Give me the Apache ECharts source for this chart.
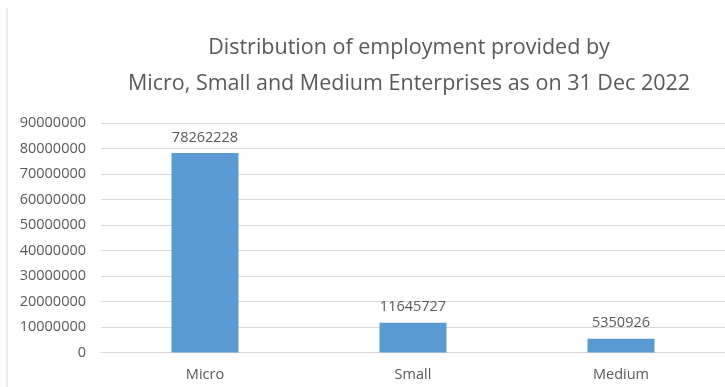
<!DOCTYPE html>
<html><head><meta charset="utf-8">
<script src="https://cdn.jsdelivr.net/npm/echarts@6/dist/echarts.min.js"></script>
<style>html,body{margin:0;padding:0;background:#fff}#c{width:725px;height:387px}</style>
</head><body><div id="c"></div>
<script>
const categories = ['Micro', 'Small', 'Medium'];
const employment = [78262228, 11645727, 5350926];
const titleLines = ['Distribution of employment provided by', 'Micro, Small and Medium Enterprises as on 31 Dec 2022'];

const chart = echarts.init(document.getElementById('c'));
const font = 'Open Sans';
chart.setOption({
  animation: false,
  textStyle: { fontFamily: font },
  title: {
    text: titleLines.join('\n'),
    left: 404, top: 25, textAlign: 'center',
    textStyle: { fontSize: 21.5, fontWeight: 'normal', color: '#595959', lineHeight: 36, fontFamily: font }
  },
  graphic: [{ type: 'line', shape: { x1: 7, y1: 8, x2: 7, y2: 387 }, style: { stroke: '#d9d9d9', lineWidth: 1 } }],
  grid: { left: 101, top: 123, width: 636, height: 229.5 },
  xAxis: {
    type: 'category', data: categories,
    axisLine: { show: true, lineStyle: { color: '#d9d9d9' } },
    axisTick: { show: false },
    axisLabel: { fontSize: 14.5, color: '#595959', margin: 15 }
  },
  yAxis: {
    type: 'value', min: 0, max: 90000000, interval: 10000000,
    axisLine: { show: false }, axisTick: { show: false },
    splitLine: { lineStyle: { color: '#d9d9d9' } },
    axisLabel: { fontSize: 14.5, color: '#595959', margin: 15, formatter: v => String(v) }
  },
  series: [{
    type: 'bar', data: employment, barWidth: 67,
    itemStyle: { color: '#5B9BD5' },
    label: { show: true, position: 'top', fontSize: 14.5, color: '#595959', distance: 8, formatter: p => String(p.value) }
  }]
});
</script></body></html>
